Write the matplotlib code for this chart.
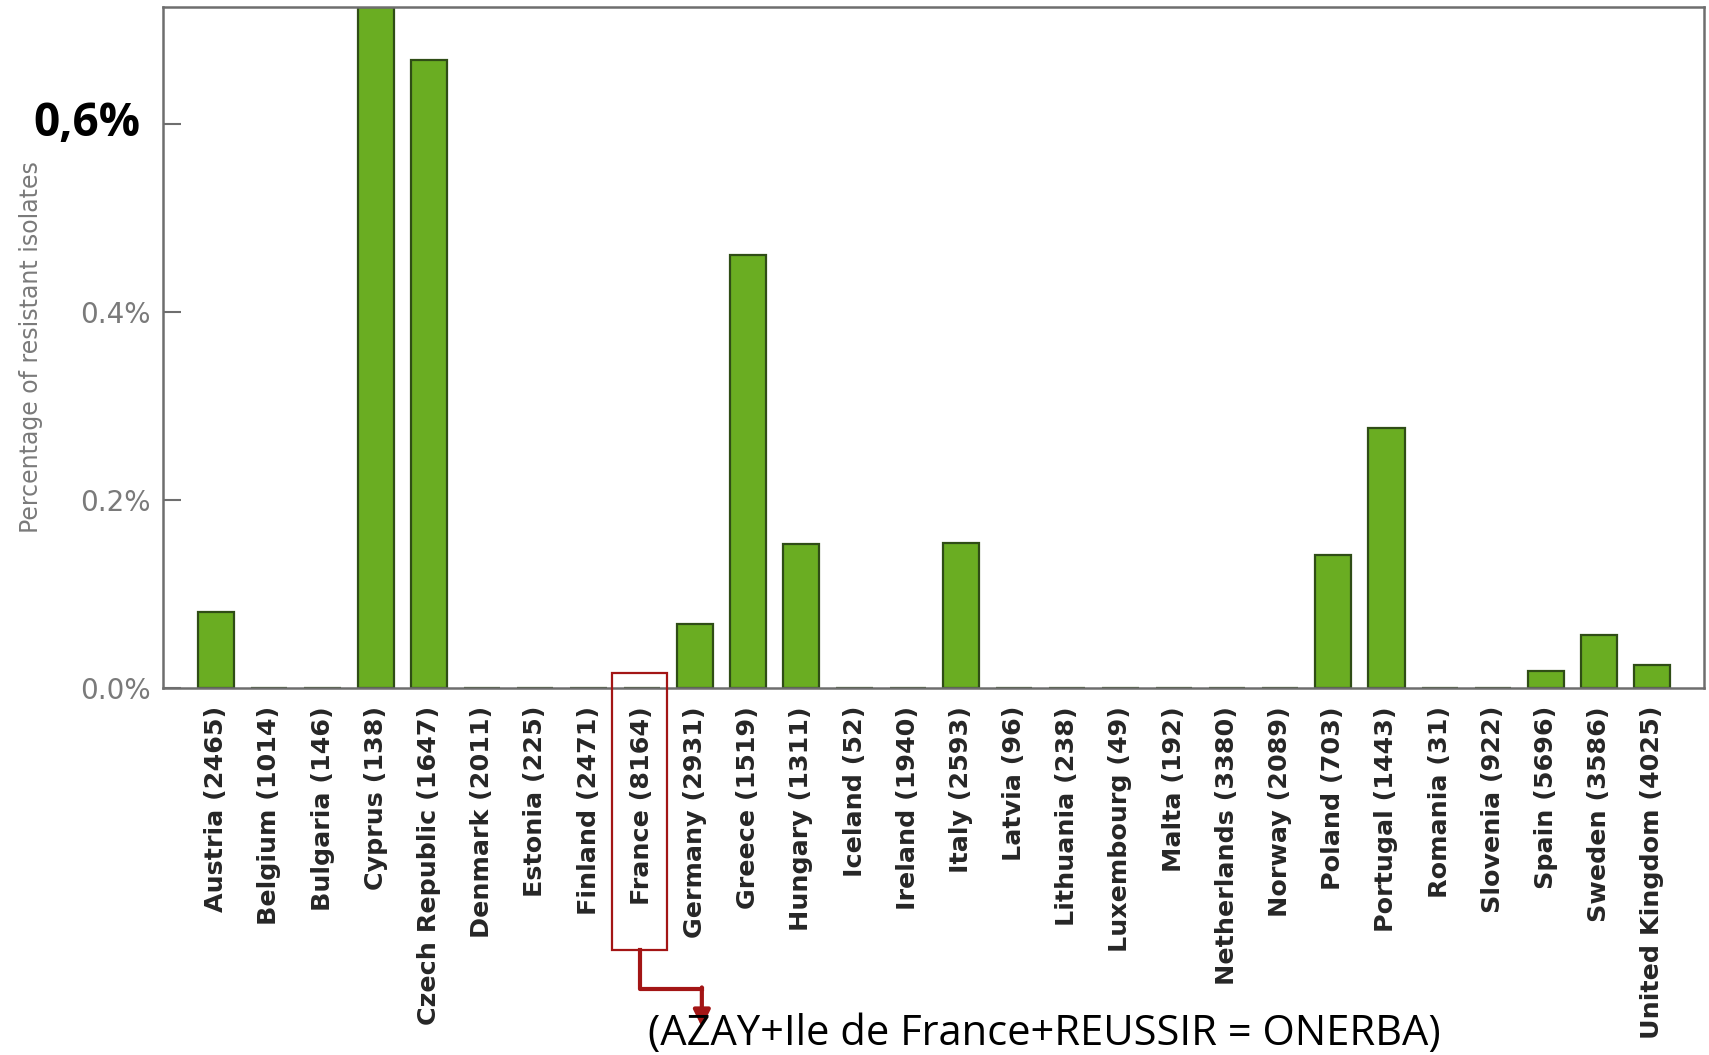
import numpy as np
import matplotlib.pyplot as plt
import matplotlib.transforms as mtransforms
from matplotlib.patches import FancyArrowPatch

# Data ------------------------------------------------------------------
countries = ["Austria", "Belgium", "Bulgaria", "Cyprus", "Czech Republic",
             "Denmark", "Estonia", "Finland", "France", "Germany", "Greece",
             "Hungary", "Iceland", "Ireland", "Italy", "Latvia", "Lithuania",
             "Luxembourg", "Malta", "Netherlands", "Norway", "Poland",
             "Portugal", "Romania", "Slovenia", "Spain", "Sweden",
             "United Kingdom"]
n_isolates = [2465, 1014, 146, 138, 1647, 2011, 225, 2471, 8164, 2931, 1519,
              1311, 52, 1940, 2593, 96, 238, 49, 192, 3380, 2089, 703, 1443,
              31, 922, 5696, 3586, 4025]
# percentage of resistant isolates
pct_resistant = [0.081, 0.0, 0.0, 0.725, 0.668, 0.0, 0.0, 0.0, 0.0, 0.068,
                 0.461, 0.153, 0.0, 0.0, 0.154, 0.0, 0.0, 0.0, 0.0, 0.0, 0.0,
                 0.142, 0.277, 0.0, 0.0, 0.018, 0.056, 0.025]
yticks = [0.0, 0.2, 0.4, 0.6]
ytick_labels = ["0.0%", "0.2%", "0.4%", ""]
big_label = "0,6%"
highlight = "France"
note = "(AZAY+Ile de France+REUSSIR = ONERBA)"

labels = [f"{c} ({n})" for c, n in zip(countries, n_isolates)]
x = np.arange(len(countries))

# Plot ------------------------------------------------------------------
W, H = 1709, 1055
fig = plt.figure(figsize=(W / 100, H / 100), dpi=100)
ax = fig.add_axes([163 / W, 1 - 688 / H, (1704 - 163) / W, (688 - 7) / H])

ax.bar(x, pct_resistant, width=0.68, color="#6aad22", edgecolor="#2f4d16",
       linewidth=1.6)

ax.set_xlim(-1.0, len(countries) - 0.03)
ax.set_ylim(0, 0.7245)

for s in ax.spines.values():
    s.set_color("#6e6e6e")
    s.set_linewidth(1.8)

ax.set_xticks(x)
ax.set_xticklabels(labels, rotation=90, fontweight="bold", color="#262626",
                   fontsize=18.3)
ax.tick_params(axis="x", length=0, pad=13)

ax.set_yticks(yticks)
ax.set_yticklabels(ytick_labels, fontsize=20, color="#7a7a7a")
ax.tick_params(axis="y", direction="in", length=13, width=1.5, color="#6e6e6e",
               pad=9)

# the 0.6 tick is written over in large bold type
ytrans = mtransforms.blended_transform_factory(ax.transAxes, ax.transData)
ax.text(-0.015, 0.601, big_label, transform=ytrans, ha="right", va="center",
        fontsize=33, fontweight="bold", family=["Open Sans", "DejaVu Sans"],
        color="black")

ax.set_ylabel("Percentage of resistant isolates", fontsize=17, color="#7a7a7a",
              family=["Liberation Sans Narrow", "DejaVu Sans Condensed",
                      "DejaVu Sans"])
ax.yaxis.set_label_coords(-0.078, 0.5)

# red box around France + arrow to the note
i = countries.index(highlight)
trans = mtransforms.blended_transform_factory(ax.transData, fig.transFigure)
red = "#a31515"
y_top, y_bot = 1 - 673 / H, 1 - 950 / H
box = plt.Rectangle((i - 0.55, y_bot), 1.02, y_top - y_bot, transform=trans,
                    fill=False, edgecolor=red, linewidth=1.6, clip_on=False)
fig.add_artist(box)
y_mid = 1 - 989 / H
fig.add_artist(plt.Line2D([i - 0.04, i - 0.04, i + 1.13], [y_bot, y_mid, y_mid],
                          transform=trans, color=red, linewidth=3))
arrow = FancyArrowPatch((i + 1.13, y_mid + 0.0015), (i + 1.13, 1 - 1027 / H),
                        transform=trans, arrowstyle="-|>,head_width=5,head_length=10",
                        color=red, linewidth=3, shrinkA=0, shrinkB=0,
                        mutation_scale=1)
fig.add_artist(arrow)

fig.text(1044 / W, 1 - 1034 / H, note, ha="center", va="center", fontsize=30,
         family=["Open Sans", "DejaVu Sans"], color="black")

plt.savefig("out.png", dpi=100)
